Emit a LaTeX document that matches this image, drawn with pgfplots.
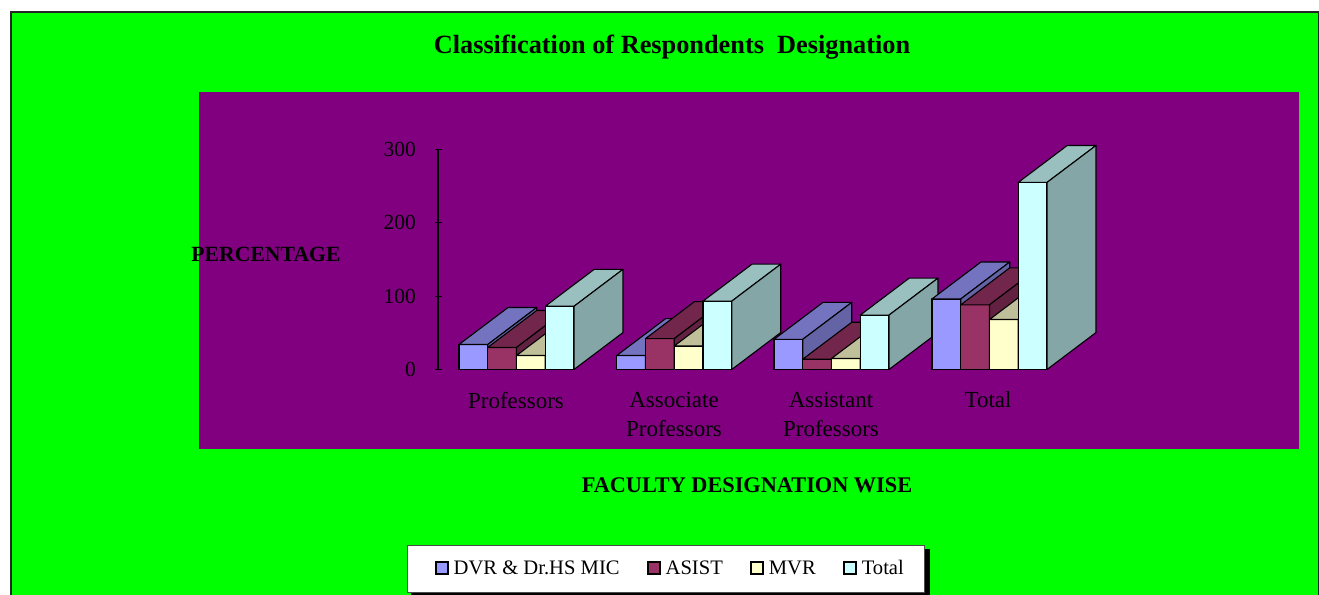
\documentclass[border=0pt]{standalone}
\usepackage{pgfplots}
\pgfplotsset{compat=1.18}
\usepackage{fontspec}
\setmainfont{Liberation Serif}
\definecolor{gbg}{HTML}{00FF00}
\definecolor{pbg}{HTML}{800080}
\definecolor{cA}{HTML}{9999FF}
\definecolor{cB}{HTML}{993366}
\definecolor{cC}{HTML}{FFFFCC}
\definecolor{cD}{HTML}{CCFFFF}
% one 3-D column: x of left edge, value, colour
\newcommand\column[3]{%
  \pgfmathsetmacro\xr{#1+28.75}%
  \pgfmathsetmacro\xa{#1+49}%
  \pgfmathsetmacro\xb{\xr+49}%
  \pgfmathsetmacro\yt{#2+50.3}%
  \addplot[forget plot,draw=black,line width=1.3pt,line join=round,fill=#3] coordinates {(#1,0) (#1,#2) (\xr,#2) (\xr,0)} --cycle;
  \addplot[forget plot,draw=black,line width=1.1pt,line join=round,fill=#3!75!black] coordinates {(#1,#2) (\xa,\yt) (\xb,\yt) (\xr,#2)} --cycle;
  \addplot[forget plot,draw=black,line width=1.1pt,line join=round,fill=#3!65!black] coordinates {(\xr,0) (\xr,#2) (\xb,\yt) (\xb,50.3)} --cycle;
}
\newcommand\group[5]{%
  \column{#1}{#2}{cA}%
  \pgfmathsetmacro\xq{#1+28.75}\edef\xqq{\xq}\expandafter\column\expandafter{\xqq}{#3}{cB}%
  \pgfmathsetmacro\xq{#1+57.5}\edef\xqq{\xq}\expandafter\column\expandafter{\xqq}{#4}{cC}%
  \pgfmathsetmacro\xq{#1+86.25}\edef\xqq{\xq}\expandafter\column\expandafter{\xqq}{#5}{cD}%
}
\pgfplotsset{swatch/.style={legend image code/.code={%
  \path[draw=none] (-0.5pt,0) -- (16pt,0);
  \draw[draw=black,line width=2pt,fill=#1] (0pt,-6pt) rectangle (12pt,6pt);}},
  swatchfirst/.style={legend image code/.code={%
  \path[draw=none] (-9.5pt,0) -- (16pt,0);
  \draw[draw=black,line width=2pt,fill=#1] (0pt,-6pt) rectangle (12pt,6pt);}}}
\begin{document}
\begin{tikzpicture}[x=1pt,y=1pt]
\path[use as bounding box] (0,0) rectangle (1319,594);
\fill[white] (0,0) rectangle (1319,594);
\filldraw[fill=gbg,draw=black!85,line width=1.5pt] (11,-5) rectangle (1318.5,582);
\fill[pbg] (199,145) rectangle (1299,502);
\fill[black] (411,-4) rectangle (929.5,45);
\begin{axis}[
  at={(438pt,224.5pt)},anchor=south west,
  scale only axis,width=662pt,height=220.5pt,
  xmin=0,xmax=662,ymin=0,ymax=300,clip=false,
  axis y line=left,axis x line=bottom,
  x axis line style={draw=none,-},y axis line style={-,line width=1.2pt},
  xtick={78,236,393,550},
  xticklabels={Professors,{Associate\\Professors},{Assistant\\Professors},Total},
  ytick={0,100,200,300},
  x tick style={draw=none},
  y tick style={black,line width=1pt},
  major tick length=7pt,
  tick pos=left,
  /pgf/number format/assume math mode=true,
  xticklabel style={align=center,font=\fontsize{23}{29}\selectfont,yshift=-15.5pt,text=black},
  yticklabel style={font=\fontsize{21.5}{24}\selectfont,text=black,xshift=-15pt},
  title={\textbf{Classification of Respondents\ \ Designation}},
  title style={at={(axis cs:234,430.5)},anchor=center,font=\fontsize{26.3}{30}\selectfont},
  xlabel={\textbf{FACULTY DESIGNATION WISE}},
  ylabel={\textbf{PERCENTAGE}},
  every axis x label/.style={at={(axis cs:309,-157)},anchor=center,font=\fontsize{22.3}{26}\selectfont},
  every axis y label/.style={at={(axis cs:-172,157)},anchor=center,font=\fontsize{21.7}{26}\selectfont},
  legend columns=4,
  legend style={at={(axis cs:228,-270.5)},anchor=center,fill=white,draw=black!70,
    font=\fontsize{20.6}{24}\selectfont,inner xsep=18.5pt,inner ysep=13.5pt,
    /tikz/every even column/.style={column sep=25pt}},
]
\group{21}{34}{30}{19}{86}
\group{178.75}{19}{42}{32}{93}
\group{336}{41}{14}{15}{74}
\group{494}{96}{88}{68}{254.5}
\addlegendimage{swatchfirst=cA}\addlegendentry{DVR \& Dr.HS MIC}
\addlegendimage{swatch=cB}\addlegendentry{ASIST}
\addlegendimage{swatch=cC}\addlegendentry{MVR}
\addlegendimage{swatch=cD}\addlegendentry{Total}
\end{axis}
\end{tikzpicture}
\end{document}
